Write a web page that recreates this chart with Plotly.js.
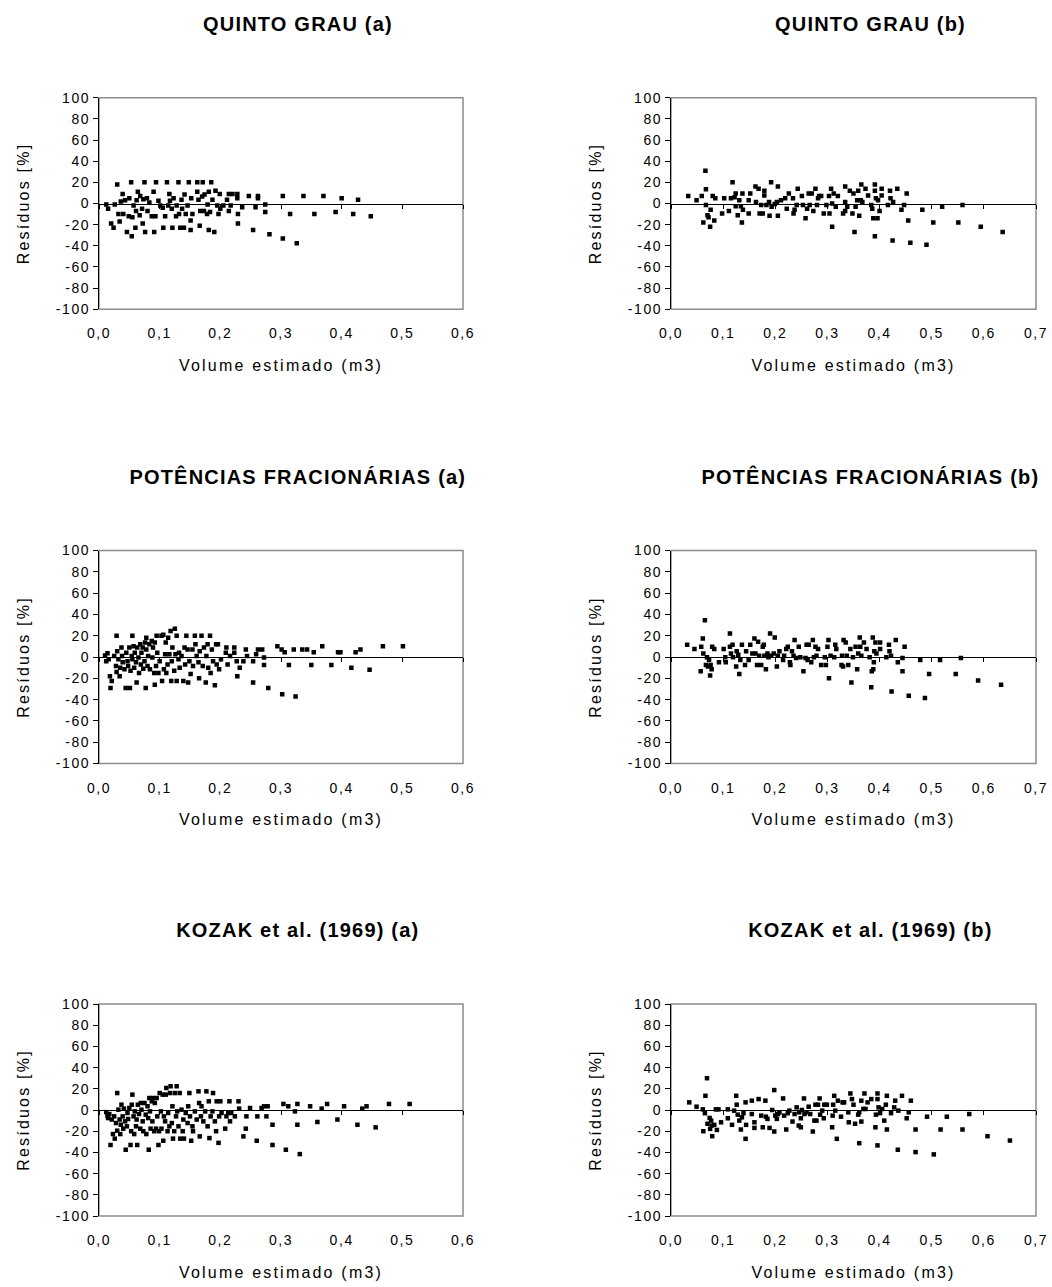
<!DOCTYPE html>
<html>
<head>
<meta charset="utf-8">
<script src="https://cdn.plot.ly/plotly-3.0.1.min.js"></script>
<style>
html,body{margin:0;padding:0;background:#fff}
#chart g[class$="tick"] text{letter-spacing:1.6px}
#chart text[class$="title"]{letter-spacing:2.2px}
#chart .annotation-text{letter-spacing:1.2px}
</style>
</head>
<body>
<div id="chart" style="width:1052px;height:1287px"></div>
<script>
// ---------------- DATA ----------------
const panelTitles = ["QUINTO GRAU (a)", "QUINTO GRAU (b)",
                     "POTÊNCIAS FRACIONÁRIAS (a)", "POTÊNCIAS FRACIONÁRIAS (b)",
                     "KOZAK et al. (1969) (a)", "KOZAK et al. (1969) (b)"];
const xAxisTitle = "Volume estimado (m3)";
const yAxisTitle = "Resíduos [%]";

const xTickValsA = [0, 0.1, 0.2, 0.3, 0.4, 0.5, 0.6];
const xTickTextA = ["0,0", "0,1", "0,2", "0,3", "0,4", "0,5", "0,6"];
const xTickValsB = [0, 0.1, 0.2, 0.3, 0.4, 0.5, 0.6, 0.7];
const xTickTextB = ["0,0", "0,1", "0,2", "0,3", "0,4", "0,5", "0,6", "0,7"];
const yTickVals = [-100, -80, -60, -40, -20, 0, 20, 40, 60, 80, 100];
const yTickText = ["-100", "-80", "-60", "-40", "-20", "0", "20", "40", "60", "80", "100"];

const quintoA_x = [
0.012,0.015,0.020,0.024,0.030,0.026,0.032,0.034,0.036,0.039,
0.040,0.043,0.046,0.049,0.050,0.053,0.054,0.055,0.057,0.060,
0.061,0.062,0.064,0.067,0.068,0.071,0.072,0.073,0.075,0.076,
0.079,0.080,0.083,0.087,0.090,0.091,0.093,0.094,0.098,0.101,
0.105,0.106,0.109,0.112,0.114,0.116,0.117,0.120,0.121,0.123,
0.127,0.128,0.131,0.132,0.134,0.136,0.137,0.140,0.141,0.143,
0.146,0.148,0.151,0.151,0.152,0.154,0.162,0.162,0.164,0.166,
0.167,0.170,0.171,0.173,0.174,0.178,0.179,0.181,0.181,0.183,
0.185,0.187,0.190,0.192,0.195,0.197,0.199,0.200,0.205,0.211,
0.214,0.214,0.217,0.220,0.228,0.228,0.229,0.229,0.236,0.247,
0.254,0.258,0.262,0.262,0.274,0.274,0.281,0.303,0.303,0.315,
0.326,0.337,0.355,0.370,0.390,0.400,0.419,0.427,0.448];
const quintoA_y = [
-1,-5,-19,-23,18,-1,-10,-17,2,9,
-10,3,-27,-12,5,20,-31,-13,-2,-23,
-7,3,11,-11,7,-5,-19,4,20,-27,
5,-7,1,-12,11,-27,-12,20,2.5,-2,
-4,-23,-12,20,-2,9,2.5,-5,-23,5,
-12,-2,20,-10,-23,3.5,-5,-23,8.5,-10,
-2,20,-16,-25,5,-10,11,20,3.5,-21,
-7,6.6,20,-7,8.5,-10,-1,11,-25,-8,
20,3.5,-27,12,-2,-10,9,-5,-2,3.5,
-7,9,-2,9,9,5,-10,-19,-3.5,7,
-25,-3.5,7,5,-1,-8,-29,7,-33,-10,
-37.5,7,-10,7,-8,5,-10,3.5,-12];

const quintoB_x = [
0.033,0.049,0.059,0.062,0.066,0.067,0.067,0.070,0.072,0.075,
0.076,0.080,0.083,0.085,0.098,0.102,0.111,0.115,0.118,0.122,
0.124,0.124,0.128,0.131,0.134,0.136,0.137,0.138,0.149,0.149,
0.152,0.162,0.163,0.168,0.170,0.173,0.176,0.179,0.179,0.183,
0.188,0.189,0.192,0.193,0.199,0.203,0.205,0.205,0.211,0.219,
0.222,0.226,0.234,0.235,0.237,0.241,0.243,0.251,0.253,0.258,
0.261,0.264,0.266,0.270,0.273,0.277,0.280,0.282,0.284,0.288,
0.293,0.298,0.303,0.304,0.307,0.309,0.309,0.312,0.316,0.320,
0.330,0.334,0.334,0.334,0.338,0.343,0.348,0.350,0.352,0.354,
0.357,0.359,0.361,0.364,0.365,0.367,0.373,0.378,0.384,0.386,
0.388,0.391,0.391,0.391,0.393,0.396,0.397,0.400,0.404,0.404,
0.416,0.420,0.421,0.425,0.426,0.434,0.442,0.447,0.452,0.455,
0.459,0.482,0.490,0.503,0.520,0.551,0.559,0.594,0.636];
const quintoB_y = [
7,3,7,-18,31,13.5,-1.5,-11,-13,-22,
-6,7,-16,5,-9.5,5,-7,5,20,6,
9.5,-2.5,-11,3,-2.5,-18,9.5,-6,3,-9.5,
9.5,16,1.5,14,-9.5,-1.5,-9.5,12,7.5,-1.5,
1.5,-11.5,20,-3,-0.5,1.5,16,-11.5,3,5,
-5,9.5,5,-9.5,-6,-1.5,14,7,-1.5,-14,
-5,9.5,-1.5,9.5,-7,14,-1.5,5,7,7,
-9.5,-1.5,7,-9.5,14,-22,0,9.5,-3,7,
-9.5,16,1.5,-7,-3,12,-9.5,9.5,-27,-3,
3,12,-11.5,3,18,1.5,14,7.5,-1.5,-5,
-14,18,12,-31,5,-14,3,-7,14,7.5,
-1.5,12,5,-35,1.5,14,-6,-1.5,9.5,-16,
-37,-6,-39,-18,-3,-18,-1.5,-22,-27];

const potA_x = [
0.010,0.012,0.014,0.016,0.018,0.019,0.021,0.025,0.028,0.029,
0.029,0.030,0.032,0.034,0.035,0.037,0.038,0.039,0.042,0.044,
0.045,0.047,0.048,0.050,0.051,0.052,0.054,0.055,0.055,0.057,
0.058,0.059,0.061,0.062,0.063,0.065,0.066,0.068,0.069,0.070,
0.072,0.073,0.075,0.076,0.077,0.078,0.078,0.080,0.081,0.083,
0.084,0.087,0.088,0.089,0.091,0.092,0.092,0.094,0.095,0.096,
0.098,0.100,0.103,0.104,0.106,0.107,0.109,0.110,0.111,0.113,
0.114,0.116,0.118,0.119,0.120,0.121,0.124,0.125,0.126,0.128,
0.128,0.131,0.132,0.133,0.136,0.139,0.141,0.142,0.144,0.146,
0.147,0.149,0.151,0.154,0.155,0.158,0.159,0.161,0.164,0.165,
0.166,0.169,0.171,0.173,0.176,0.177,0.179,0.180,0.183,0.184,
0.186,0.188,0.191,0.193,0.194,0.196,0.198,0.201,0.209,0.210,
0.212,0.216,0.223,0.223,0.227,0.228,0.232,0.238,0.242,0.244,
0.254,0.254,0.259,0.262,0.269,0.272,0.272,0.279,0.294,0.301,
0.302,0.306,0.313,0.321,0.324,0.335,0.343,0.350,0.354,0.368,
0.383,0.394,0.398,0.416,0.423,0.431,0.446,0.468,0.501];
const potA_y = [
1.5,-4,3.5,-2,-18,-29,-22.5,1,-8.5,20,
-14,5.5,-2,-18,-10,9,1,-5,-11.5,-29,
4,-4,-8.5,9,-29,-13,1,20,-2,10,
-10,4,-5,-24,9,-0.5,-15,12,-7,4,
9,-11,-4,13.5,-29,18,7,-8.5,1,12,
-11.5,15,-0.5,9,-15,-26,13.5,-8.5,20,4,
-15,-4,20,-22.5,21,-11.5,2.5,13.5,-15,-7,
18,2.5,24.5,-22.5,-4,9,-13,26.6,2.5,20,
-22.5,-2,4,-10,1,-22.5,9,-7,20,7,
-24,-4,-16,7,-8.5,20,12,1,-5,-20,
5.5,20,-8.5,9,-24,1,12,-10,20,-15,
7,-4,-26.6,12,-7,12,-11.5,-2,4,9,
-7,1,9,4,-4,-18,-10,-4,7,1,
-4,-24,2.5,7,7,-0.5,-7.5,-29,10,7,
-35,4.5,-7.5,7,-37,7,7,-7.5,4.5,10,
-7.5,4.5,4.5,-10,4.5,7,-12,10,10];

const potB_x = [
0.031,0.045,0.057,0.058,0.061,0.062,0.065,0.067,0.069,0.071,
0.073,0.075,0.076,0.078,0.079,0.083,0.092,0.101,0.104,0.105,
0.113,0.113,0.115,0.118,0.119,0.125,0.126,0.129,0.131,0.133,
0.136,0.142,0.144,0.149,0.152,0.156,0.160,0.162,0.165,0.167,
0.169,0.173,0.176,0.178,0.179,0.182,0.185,0.187,0.190,0.192,
0.197,0.199,0.203,0.205,0.208,0.215,0.217,0.221,0.224,0.228,
0.229,0.232,0.235,0.237,0.240,0.245,0.248,0.254,0.258,0.260,
0.262,0.264,0.269,0.272,0.274,0.277,0.279,0.282,0.288,0.295,
0.297,0.300,0.302,0.303,0.306,0.313,0.315,0.317,0.327,0.328,
0.330,0.331,0.335,0.337,0.340,0.344,0.346,0.349,0.354,0.357,
0.359,0.362,0.363,0.365,0.370,0.375,0.381,0.384,0.385,0.387,
0.388,0.389,0.390,0.392,0.394,0.401,0.401,0.413,0.418,0.419,
0.422,0.423,0.431,0.435,0.444,0.444,0.448,0.456,0.478,0.487,
0.495,0.516,0.546,0.556,0.589,0.633];
const potB_y = [
11.5,7.5,-13.4,9.6,17.4,3.4,34.5,-7.5,-0.3,-9,
-2.8,-17.4,-7.5,-11.5,9.6,7.5,-5,7.5,-0.3,-5,
22,9.6,3.4,11.5,-0.3,-9,5.3,2.2,-15.9,-2.8,
11.5,-7.5,5.3,-2.8,11.5,3.4,17.4,3.4,-7.5,14.3,
1.2,-7.5,9.6,11.5,1.2,-11.5,3.4,-0.3,22,1.2,
3.4,18.3,-9,1.2,5.3,-2.8,1.2,7.5,9.6,-5,
-7.5,5.3,1.2,15.9,-1,9.6,-0.3,-13.4,-1,11.5,
-2.8,11.5,-5,15.9,-0.3,9.6,1.2,7.5,-7.5,-0.3,
-7.5,9.6,15.9,-20,1.2,-0.3,11.5,7.5,-7.5,1.2,
-9,15.9,13.7,1.2,-7.5,7.5,-24,-0.3,9.6,-11.5,
3.4,18.3,9.6,1.2,13.7,7.5,-0.3,-28.3,-13.4,18.3,
-11.5,-5,5.3,13.7,3.4,13.7,7.5,-0.3,11.5,5.3,
1.2,-32.4,15.9,-5,-1,-13.4,9.6,-36.4,-2.8,-38.6,
-15.9,-2.8,-15.9,-1,-22,-26];

const kozakA_x = [
0.012,0.014,0.015,0.017,0.019,0.021,0.023,0.025,0.026,0.028,
0.030,0.030,0.032,0.034,0.035,0.036,0.037,0.039,0.040,0.041,
0.043,0.044,0.046,0.047,0.048,0.050,0.052,0.053,0.054,0.055,
0.057,0.058,0.059,0.061,0.062,0.063,0.064,0.066,0.068,0.069,
0.070,0.072,0.073,0.075,0.077,0.078,0.080,0.081,0.082,0.083,
0.084,0.085,0.087,0.088,0.089,0.091,0.092,0.094,0.095,0.096,
0.098,0.099,0.100,0.102,0.103,0.105,0.106,0.107,0.109,0.110,
0.111,0.113,0.114,0.116,0.117,0.118,0.120,0.121,0.122,0.124,
0.125,0.127,0.128,0.129,0.131,0.133,0.134,0.136,0.138,0.139,
0.140,0.143,0.146,0.147,0.149,0.150,0.152,0.154,0.155,0.158,
0.161,0.164,0.165,0.166,0.168,0.169,0.172,0.175,0.177,0.179,
0.181,0.182,0.184,0.187,0.188,0.191,0.193,0.194,0.197,0.198,
0.200,0.202,0.208,0.210,0.213,0.215,0.216,0.218,0.224,0.230,
0.231,0.238,0.242,0.243,0.249,0.260,0.261,0.268,0.272,0.276,
0.278,0.286,0.286,0.304,0.308,0.312,0.323,0.327,0.327,0.331,
0.348,0.360,0.367,0.376,0.393,0.404,0.426,0.434,0.441,0.456,
0.478,0.512];
const kozakA_y = [
-2,-5.4,-7.6,-3.8,-33,-9,-22.7,-6,-27,-12.3,
16,-19.5,0.3,-9,-22.7,-13.9,5,-6,-17.6,1.3,
-10.7,-37.5,-15.4,-2.8,-8.5,1.9,-33,-20,5,14.5,
-6,-22.7,-1.3,-15.4,-9,-33,5,-3.8,-17.6,6.6,
0.3,-10.7,-20,6.6,-4.4,-22.7,3.5,-7.6,-37.5,11.3,
-1.3,-17.6,8.2,-10.7,11.3,-20,6.6,-17.6,11.3,-6,
-33,-20,16,-1.3,-17.6,14.5,-29,-6,-10.7,14.5,
20.8,-20,-2.8,-15.4,16,22.4,-12.3,3.5,-27,-20,
16,-6,22.4,-1.3,-15.4,16,-27,0.3,-20,-9,
-27,-2.8,-12.3,3.5,16,-6,-29,-15.4,-20,-1.3,
-9,17.6,6.6,-24.9,-6,3.5,-10.7,-1.3,17.6,-15.4,
8.2,-26.5,-6,-1.3,16,-10.7,-20,8.2,-31,-6,
8.2,-2.8,-17.6,-6,-2.8,8.2,-10.7,-2.8,-6,8.2,
1.3,-24.9,-17.6,-6,1.9,-29,-6,1.9,3.5,-6,
3.5,-13.9,-33,5.7,-37.5,3.5,-1.3,5.7,-13.9,-41.6,
3.5,-11.3,1.3,5.7,-9,3.5,-13.9,1.3,3.5,-16.4,
5.7,5.7];

const kozakB_x = [
0.035,0.049,0.061,0.062,0.065,0.066,0.069,0.070,0.074,0.075,
0.077,0.078,0.079,0.083,0.086,0.088,0.091,0.096,0.109,0.109,
0.117,0.121,0.125,0.126,0.128,0.131,0.134,0.136,0.139,0.143,
0.143,0.144,0.155,0.155,0.160,0.160,0.168,0.173,0.176,0.181,
0.182,0.185,0.189,0.194,0.198,0.198,0.200,0.203,0.205,0.208,
0.215,0.217,0.221,0.224,0.227,0.233,0.237,0.241,0.245,0.246,
0.249,0.249,0.251,0.255,0.256,0.260,0.264,0.267,0.272,0.275,
0.277,0.279,0.282,0.285,0.286,0.290,0.293,0.294,0.299,0.309,
0.310,0.311,0.313,0.315,0.318,0.320,0.326,0.329,0.332,0.340,
0.341,0.344,0.347,0.350,0.353,0.359,0.361,0.361,0.365,0.365,
0.369,0.371,0.373,0.377,0.384,0.392,0.393,0.396,0.396,0.396,
0.398,0.401,0.405,0.409,0.412,0.414,0.414,0.422,0.428,0.430,
0.435,0.436,0.443,0.452,0.456,0.460,0.469,0.469,0.491,0.504,
0.517,0.529,0.559,0.572,0.607,0.650];
const kozakB_y = [
7.2,3.1,0.6,-20,-3,13.4,30,-13,-7.5,-17.8,
-10,-14.7,-24.7,-14,0.6,-18.8,0.6,-11.6,0.6,-7.8,
-14,-0.6,13.4,5,-4.4,-10,-18.4,-6.9,-3,7.2,
-27.2,-14,8.8,-3.8,-11.6,-16.9,10.3,-5.3,-16.3,8.8,
-6.3,-8.4,-16.9,0,18.8,-20.3,-5.3,-8.4,-3.8,-2.2,
10.9,-5.3,-18.4,-3,-0.6,-10.9,-3.8,2.5,-14.7,-2.2,
-7.8,-16.3,0,10.9,-3.8,-2.2,3.1,-3.8,-20.3,-10,
5,-10,5,10.9,-4.4,-0.6,-7.8,5,5,-16.3,
-5.3,5,13.4,-0.6,-27.2,8.8,-6.3,7.2,7.2,-2.2,
-11.6,15.6,10.3,5,-13,-4.4,-2.2,-31.3,-10.9,8.8,
1,15.6,1,7.2,10.3,-16.3,-4.4,15.6,10.3,-33.4,
2.5,-3,1,-10,5,13.4,-18.4,-3,2.5,8.8,
-37.5,-0.6,13.4,-7.8,-2.2,8.8,-18.4,-39.7,-6.3,-41.9,
-18.4,-6.3,-18.4,-3.8,-24.7,-28.8];

// ---------------- LAYOUT ----------------
const W = 1052, H = 1287;
const FONT = "Liberation Sans, Arial, Helvetica, sans-serif";
const colPx = [[99, 463], [671, 1036]];
const rowPx = [[97.7, 309.3], [550.5, 763.5], [1004, 1216]];

const panels = [
  {x: quintoA_x, y: quintoA_y, xmax: 0.6, tv: xTickValsA, tt: xTickTextA},
  {x: quintoB_x, y: quintoB_y, xmax: 0.7, tv: xTickValsB, tt: xTickTextB},
  {x: potA_x,    y: potA_y,    xmax: 0.6, tv: xTickValsA, tt: xTickTextA},
  {x: potB_x,    y: potB_y,    xmax: 0.7, tv: xTickValsB, tt: xTickTextB},
  {x: kozakA_x,  y: kozakA_y,  xmax: 0.6, tv: xTickValsA, tt: xTickTextA},
  {x: kozakB_x,  y: kozakB_y,  xmax: 0.7, tv: xTickValsB, tt: xTickTextB}
];

const data = [];
const layout = {
  width: W, height: H,
  margin: {l: 0, r: 0, t: 0, b: 0},
  showlegend: false,
  paper_bgcolor: "#ffffff",
  plot_bgcolor: "#ffffff",
  font: {family: FONT, color: "#000000", size: 14},
  shapes: [],
  annotations: []
};

panels.forEach((p, i) => {
  const n = i + 1;
  const s = n === 1 ? "" : String(n);
  const col = i % 2, row = Math.floor(i / 2);
  const xd = [colPx[col][0] / W, colPx[col][1] / W];
  const yd = [1 - rowPx[row][1] / H, 1 - rowPx[row][0] / H];

  data.push({
    type: "scatter", mode: "markers",
    x: p.x, y: p.y,
    xaxis: "x" + s, yaxis: "y" + s,
    marker: {symbol: "square", size: 4.5, color: "#000000"},
    name: panelTitles[i]
  });

  layout["xaxis" + s] = {
    domain: xd, anchor: "y" + s, range: [0, p.xmax],
    tickvals: p.tv, ticktext: p.tt,
    ticks: "", showline: false, showgrid: false, zeroline: false,
    ticklabelstandoff: 14,
    tickfont: {size: 14},
    title: {text: xAxisTitle, font: {size: 16}, standoff: 19}
  };
  layout["yaxis" + s] = {
    domain: yd, anchor: "x" + s, range: [-100, 100],
    tickvals: yTickVals, ticktext: yTickText,
    ticks: "outside", ticklen: 5, tickcolor: "#000000", tickwidth: 1,
    showline: true, linecolor: "#000000", linewidth: 1,
    showgrid: false, zeroline: false,
    tickfont: {size: 14},
    title: {text: yAxisTitle, font: {size: 16}, standoff: 28}
  };

  // axis crossing at y = 0 (line with tick marks)
  const o = 6 + n;
  layout["xaxis" + o] = {
    overlaying: "x" + s, anchor: "free", position: (yd[0] + yd[1]) / 2,
    range: [0, p.xmax], tickvals: p.tv,
    ticks: "outside", ticklen: 4, tickcolor: "#000000", tickwidth: 1,
    showticklabels: false, showline: true, linecolor: "#000000", linewidth: 1,
    showgrid: false, zeroline: false
  };
  data.push({type: "scatter", mode: "markers", x: [], y: [], xaxis: "x" + o, yaxis: "y" + s, hoverinfo: "skip", showlegend: false});

  layout.shapes.push({
    type: "rect", xref: "x" + s + " domain", yref: "y" + s + " domain",
    x0: 0, x1: 1, y0: 0, y1: 1,
    line: {color: "#8c8c8c", width: 1.5}, layer: "below"
  });

  layout.annotations.push({
    text: panelTitles[i], xref: "paper", yref: "paper",
    x: ((colPx[col][0] + colPx[col][1]) / 2 + 17) / W,
    y: 1 - (rowPx[row][0] - 74) / H,
    xanchor: "center", yanchor: "middle", showarrow: false,
    font: {size: 20, weight: "bold", family: FONT, color: "#000000"}
  });
});

Plotly.newPlot("chart", data, layout, {displayModeBar: false, staticPlot: true});
</script>
</body>
</html>
